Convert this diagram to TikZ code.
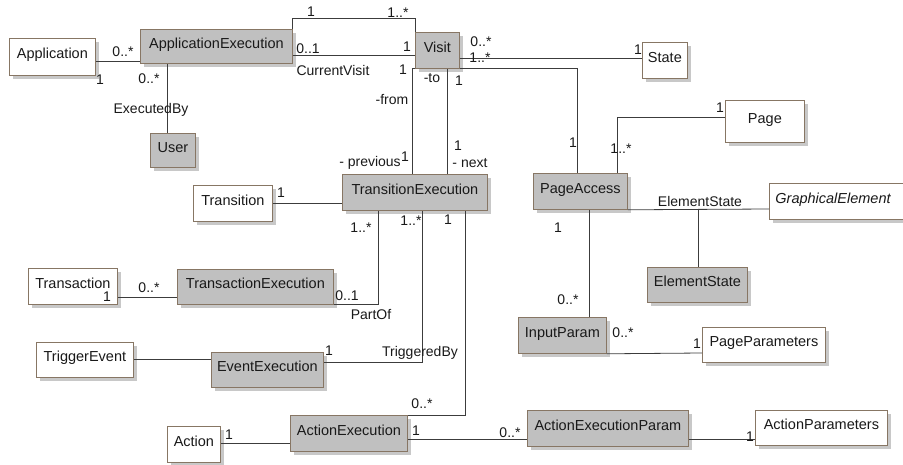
\documentclass[tikz,border=0pt]{standalone}
\usepackage{fontspec}
\setmainfont{Liberation Sans}
\usetikzlibrary{shadows,calc}
\definecolor{boxgray}{RGB}{192,192,192}
\definecolor{boxline}{RGB}{135,118,100}
\definecolor{connc}{RGB}{60,60,60}
\definecolor{shad}{RGB}{200,200,200}
\definecolor{txt}{RGB}{25,25,25}
\begin{document}
\begin{tikzpicture}[x=1pt,y=-1pt,
  font=\fontsize{14.5}{17}\selectfont,
  cls/.style={draw=boxline, line width=0.8pt, fill=white, anchor=north west,
    inner sep=0pt, text height=10.5pt, text depth=7pt, text=txt,
    drop shadow={shadow xshift=4pt,shadow yshift=-4pt,fill=shad,opacity=1}},
  gcls/.style={cls, fill=boxgray},
  conn/.style={draw=connc, line width=0.8pt},
  lab/.style={inner sep=0pt, text=txt, font=\fontsize{14}{16}\selectfont}]
\useasboundingbox (0,0) rectangle (903,465);

% classes
\node[cls,  minimum width=86pt,  minimum height=37pt] (App) at (9,38) {Application};
\node[gcls, minimum width=152pt, minimum height=34pt] (AE) at (140,29) {ApplicationExecution};
\node[gcls, minimum width=45pt,  minimum height=34pt] (User) at (150,133) {User};
\node[gcls, minimum width=44pt,  minimum height=36pt] (Visit) at (415,32) {Visit};
\node[cls,  minimum width=45pt,  minimum height=36pt] (State) at (642,42) {State};
\node[cls,  minimum width=79pt,  minimum height=42pt] (Page) at (725,100) {Page};
\node[cls,  minimum width=79pt,  minimum height=36pt] (Transition) at (193,185) {Transition};
\node[gcls, minimum width=145pt, minimum height=36pt] (TE) at (342,174) {TransitionExecution};
\node[gcls, minimum width=94pt,  minimum height=36pt] (PA) at (533,173) {PageAccess};
\node[cls,  minimum height=36pt, text width=128pt, inner xsep=6pt, align=left] (GE) at (769,183) {\itshape GraphicalElement};
\node[cls,  minimum width=89pt,  minimum height=36pt] (Transaction) at (28,268) {Transaction};
\node[gcls, minimum width=156pt, minimum height=35pt] (TxE) at (177,269) {TransactionExecution};
\node[gcls, minimum width=100pt, minimum height=35pt] (ES) at (647,267) {ElementState};
\node[gcls, minimum width=88pt,  minimum height=36pt] (IP) at (518,317) {InputParam};
\node[cls,  minimum width=123pt, minimum height=35pt] (PP) at (702,327) {PageParameters};
\node[cls,  minimum width=97pt,  minimum height=35pt] (TrigEv) at (36,342) {TriggerEvent};
\node[gcls, minimum width=112pt, minimum height=35pt] (EE) at (211,352) {EventExecution};
\node[cls,  minimum width=53pt,  minimum height=36pt] (Action) at (167,426) {Action};
\node[gcls, minimum width=117pt, minimum height=36pt] (AcE) at (290,415) {ActionExecution};
\node[gcls, minimum width=161pt, minimum height=36pt] (AEP) at (527,410) {ActionExecutionParam};
\node[cls,  minimum width=132pt, minimum height=35pt] (AP) at (755,410) {ActionParameters};

% connectors
\draw[conn] (App.east |- 0,61) -- (AE.west |- 0,61);
\draw[conn] (AE.south -| 167,0) -- (User.north -| 167,0);
\draw[conn] (AE.north east) -- ++(0,-11) -| (Visit.north west);
\draw[conn] (AE.east |- 0,55) -- (Visit.west |- 0,55);
\draw[conn] (Visit.east |- 0,58) -- (State.west |- 0,58);
\draw[conn] (Visit.south west) -- ++(-3,0) -- (TE.north -| 412,0);
\draw[conn] (Visit.south -| 447,0) -- (TE.north -| 447,0);
\draw[conn] (Visit.south east) -| (PA.north -| 577,0);
\draw[conn] (Page.west |- 0,117) -| (PA.north -| 617,0);
\draw[conn] (Transition.east |- 0,203) -- (TE.west |- 0,203);
\draw[conn] (TE.south -| 378,0) |- (TxE.south east);
\draw[conn] (TE.south -| 422,0) |- (EE.east |- 0,362);
\draw[conn] (TE.south -| 465,0) |- (AcE.north east);
\draw[conn] (Transaction.east |- 0,297) -- (TxE.west |- 0,297);
\draw[conn] (TrigEv.east |- 0,359) -- (EE.west |- 0,359);
\draw[conn] (Action.east |- 0,443) -- (AcE.west |- 0,443);
\draw[conn] (AcE.east |- 0,439) -- (AEP.west |- 0,439);
\draw[conn] (AEP.east |- 0,439) -- (AP.west |- 0,439);
\draw[conn] (PA.south -| 589,0) -- (IP.north -| 589,0);
\draw[conn] (IP.south east) -- (PP.west |- 0,353);
\draw[conn] (PA.south east) -- (GE.west |- 0,209);
\coordinate (esj) at (698,209);
\draw[conn] (esj) -- (ES.north -| esj);

% labels
\node[lab] (m1) at (123,52) {0..*};
\node[lab] (m2) at (100,80) {1};
\node[lab] (m3) at (149,79) {0..*};
\node[lab] (m4) at (151,110) {ExecutedBy};
\node[lab] (m5) at (311,12) {1};
\node[lab] (m6) at (398,13) {1..*};
\node[lab] (m7) at (308,49) {0..1};
\node[lab] (m8) at (407,47) {1};
\node[lab] (m9) at (333,70) {CurrentVisit};
\node[lab] (m10) at (403,70) {1};
\node[lab] (m11) at (481,42) {0..*};
\node[lab] (m12) at (480,58) {1..*};
\node[lab] (m13) at (638,50) {1};
\node[lab] (m14) at (392,100) {-from};
\node[lab] (m15) at (370,163) {- previous};
\node[lab] (m16) at (405,157) {1};
\node[lab] (m17) at (432,78) {-to};
\node[lab] (m18) at (459,81) {1};
\node[lab] (m19) at (458,146) {1};
\node[lab] (m20) at (470,163) {- next};
\node[lab] (m21) at (573,143) {1};
\node[lab] (m22) at (720,108) {1};
\node[lab] (m23) at (621,149) {1..*};
\node[lab] (m24) at (281,193) {1};
\node[lab] (m25) at (361,228) {1..*};
\node[lab] (m26) at (347,296) {0..1};
\node[lab] (m27) at (371,315) {PartOf};
\node[lab] (m28) at (411,221) {1..*};
\node[lab] (m29) at (420,353) {TriggeredBy};
\node[lab] (m30) at (329,351) {1};
\node[lab] (m31) at (448,220) {1};
\node[lab] (m32) at (422,404) {0..*};
\node[lab] (m33) at (149,288) {0..*};
\node[lab] (m34) at (107,297) {1};
\node[lab] (m35) at (229,435) {1};
\node[lab] (m36) at (416,431) {1};
\node[lab] (m37) at (510,433) {0..*};
\node[lab] (m38) at (750,437) {1};
\node[lab] (m39) at (558,228) {1};
\node[lab] (m40) at (568,300) {0..*};
\node[lab] (m41) at (623,333) {0..*};
\node[lab] (m42) at (697,344) {1};
\node[lab] (m43) at (700,201) {ElementState};
\end{tikzpicture}
\end{document}
